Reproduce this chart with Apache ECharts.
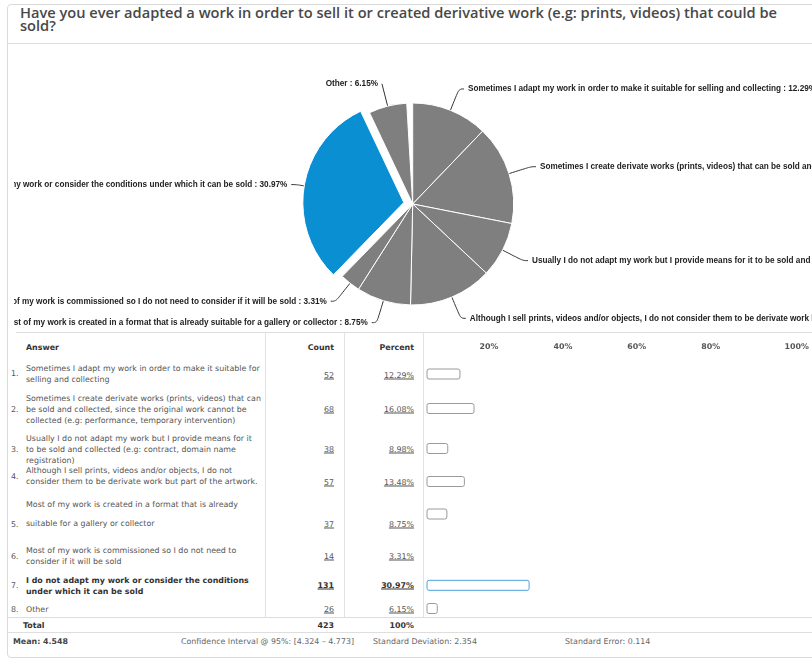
<!DOCTYPE html>
<html>
<head>
<meta charset="utf-8">
<script src="https://cdn.jsdelivr.net/npm/echarts@6/dist/echarts.min.js"></script>
<style>
  html, body { margin: 0; padding: 0; background: #fff; }
  body {
    width: 812px; height: 660px; position: relative; overflow: hidden;
    font-family: "DejaVu Sans", sans-serif; font-size: 7.9px; color: #555;
  }
  .abs { position: absolute; white-space: nowrap; }
  #panel { left: 7px; top: 4px; width: 840px; height: 652px; border: 1px solid #dadada; border-radius: 4px; }
  #title {
    left: 20px; top: 7px; white-space: pre; transform-origin: 0 0;
    font-family: "Open Sans", sans-serif;
    font-weight: 600; font-size: 14.5px; line-height: 12.5px; color: #484848;
  }
  .hr { height: 1px; background: #dedede; }
  .vr { width: 1px; background: #e2e2e2; }
  .mid { transform: translateY(-50%); }
  .rmid { transform: translate(-100%, -50%); }
  .head { font-weight: bold; color: #333; }
  .fig { text-decoration: underline; color: #555; }
  .ans { white-space: pre-line; line-height: 11px; }
  .strong { font-weight: bold; color: #333; }
  #pie { left: 14px; top: 46px; width: 798px; height: 284px; }
  #bars { left: 423px; top: 333px; width: 389px; height: 284px; }
</style>
</head>
<body>
<div id="panel" class="abs"></div>
<div id="title" class="abs"></div>
<div class="abs hr" style="left:8px; top:43px; width:804px;"></div>
<div id="pie" class="abs"></div>
<div class="abs hr" style="left:16px; top:332px; width:796px;"></div>
<div class="abs vr" style="left:265px; top:333px; height:284px;"></div>
<div class="abs vr" style="left:344px; top:333px; height:284px;"></div>
<div class="abs vr" style="left:423px; top:333px; height:284px;"></div>
<div class="abs hr" style="left:8px; top:617px; width:804px;"></div>
<div class="abs hr" style="left:8px; top:632px; width:804px;"></div>
<div id="table"></div>
<div id="bars" class="abs"></div>

<script>
// ---- survey question and results ----
const questionLines = [
  "Have you ever adapted a work in order to sell it or created derivative work (e.g: prints, videos) that could be",
  "sold?"
];

const answers = [
  "Sometimes I adapt my work in order to make it suitable for\nselling and collecting",
  "Sometimes I create derivate works (prints, videos) that can\nbe sold and collected, since the original work cannot be\ncollected (e.g: performance, temporary intervention)",
  "Usually I do not adapt my work but I provide means for it\nto be sold and collected (e.g: contract, domain name\nregistration)",
  "Although I sell prints, videos and/or objects, I do not\nconsider them to be derivate work but part of the artwork.",
  "Most of my work is created in a format that is already\nsuitable for a gallery or collector",
  "Most of my work is commissioned so I do not need to\nconsider if it will be sold",
  "I do not adapt my work or consider the conditions\nunder which it can be sold",
  "Other"
];
const counts = [52, 68, 38, 57, 37, 14, 131, 26];
const percents = [12.29, 16.08, 8.98, 13.48, 8.75, 3.31, 30.97, 6.15];
const totalCount = 423;
const totalPercent = "100%";
// part of the ring left blank after the "Other" slice
const blankShare = 0.95;
const highlightedIndex = 6;

const percentTicks = [20, 40, 60, 80, 100];

const meanText = "Mean: 4.548";
const ciText = "Confidence Interval @ 95%: [4.324 \u2013 4.773]";
const sdText = "Standard Deviation: 2.354";
const seText = "Standard Error: 0.114";

// ---- table layout (vertical centres of each row's pieces, page pixels) ----
const textMidY = [374, 409, 449, 475.5, 514, 556, 585.5, 608.5];
const numMidY  = [373, 409, 449, 476, 523.5, 555.5, 585, 608.5];
const figMidY  = [375, 409, 449, 481.5, 523.5, 556, 585, 608.5];
const barMidY  = [374, 408.5, 448.5, 481.5, 514, 557, 585.3, 608.5];
const lineGap  = [11, 11, 11, 11, 19, 11, 11, 11];

// connector lengths that differ from the series default (by slice index)
const connectorOverrides = { 6: { length: 8 }, 7: { length2: 0 } };

// title: condensed to the width of the header band
const titleEl = document.getElementById('title');
titleEl.textContent = questionLines.join('\n');
(function fitTitle() {
  const ctx = document.createElement('canvas').getContext('2d');
  ctx.font = '600 14.5px "Open Sans"';
  const w = ctx.measureText(questionLines[0]).width;
  const target = 757;
  titleEl.style.transform = 'scaleX(' + (target / w).toFixed(4) + ')';
})();

const table = document.getElementById('table');
function put(text, cls, left, top, extra) {
  const d = document.createElement('div');
  d.className = 'abs ' + cls;
  d.style.left = left + 'px';
  d.style.top = top + 'px';
  if (extra) Object.assign(d.style, extra);
  d.textContent = text;
  table.appendChild(d);
  return d;
}

// header row
put('Answer', 'mid head', 26, 347);
put('Count', 'rmid head', 334, 347);
put('Percent', 'rmid head', 414, 347);

answers.forEach((a, i) => {
  const strong = i === highlightedIndex ? ' strong' : '';
  put((i + 1) + '.', 'mid', 11, numMidY[i]);
  put(a, 'mid ans' + strong, 26, textMidY[i], { lineHeight: lineGap[i] + 'px' });
  put(String(counts[i]), 'rmid fig' + strong, 334, figMidY[i]);
  put(percents[i].toFixed(2) + '%', 'rmid fig' + strong, 414, figMidY[i]);
});

put('Total', 'mid head', 23, 625);
put(String(totalCount), 'rmid head', 334, 625);
put(totalPercent, 'rmid head', 414, 625);

put(meanText, 'mid', 13, 641, { fontWeight: 'bold', color: '#444' });
put(ciText, 'mid', 181, 641, { color: '#666' });
put(sdText, 'mid', 373, 641, { color: '#666' });
put(seText, 'mid', 565, 641, { color: '#666' });

// ---- pie of the answer shares ----
const pieChart = echarts.init(document.getElementById('pie'), null, { renderer: 'canvas' });
const pieData = answers.map((a, i) => {
  const item = { name: a.replace(/\n/g, ' '), value: percents[i] };
  if (i === highlightedIndex) {
    item.selected = true;
    item.itemStyle = { color: '#0a8fd3' };
    item.select = { itemStyle: { color: '#0a8fd3' } };
  }
  if (connectorOverrides[i]) item.labelLine = connectorOverrides[i];
  return item;
});
pieData.push({
  name: '', value: blankShare,
  itemStyle: { color: 'rgba(255,255,255,0)', borderWidth: 0 },
  label: { show: false }, labelLine: { show: false }
});

pieChart.setOption({
  animation: false,
  series: [{
    type: 'pie',
    center: [398.7, 158],
    radius: 101,
    startAngle: 90,
    clockwise: true,
    selectedMode: 'single',
    selectedOffset: 9,
    avoidLabelOverlap: true,
    silent: true,
    itemStyle: { color: '#7f7f7f', borderColor: '#fff', borderWidth: 1 },
    select: { itemStyle: { borderColor: '#fff', borderWidth: 1 } },
    emphasis: { disabled: true },
    label: {
      formatter: p => p.name + ' : ' + p.value.toFixed(2) + '%',
      fontFamily: 'Liberation Sans',
      fontWeight: 'bold',
      fontSize: 8.2,
      color: '#222',
      overflow: 'none',
      distanceToLabelLine: 4
    },
    labelLine: {
      length: 23,
      length2: 5,
      smooth: 0.4,
      lineStyle: { color: '#333', width: 1 }
    },
    data: pieData
  }]
});

// ---- percent bars, one small grid per table row ----
const barChart = echarts.init(document.getElementById('bars'), null, { renderer: 'canvas' });
const chartTop = 333;
// the value axis starts at the cell's inner edge, slightly above 0 %
const axisMin = 3.24;
const axisLeft = 4, axisWidth = 358, barH = 11;

const grids = [{ left: axisLeft, width: axisWidth, top: 18, height: 1 }];
const xAxes = [{
  gridIndex: 0, type: 'value', min: axisMin, max: 100, position: 'top',
  axisLine: { show: false }, axisTick: { show: false }, splitLine: { show: false },
  axisLabel: {
    customValues: percentTicks, formatter: v => v + '%', margin: 0,
    fontFamily: 'DejaVu Sans', fontSize: 7.9, fontWeight: 'bold', color: '#555',
    alignMaxLabel: 'left'
  }
}];
const yAxes = [{ gridIndex: 0, type: 'category', data: [''], show: false }];
const barSeries = [];

percents.forEach((p, i) => {
  const g = i + 1;
  grids.push({ left: axisLeft, width: axisWidth, top: barMidY[i] - chartTop - barH / 2, height: barH });
  xAxes.push({ gridIndex: g, type: 'value', min: axisMin, max: 100, show: false });
  yAxes.push({ gridIndex: g, type: 'category', data: [answers[i].replace(/\n/g, ' ')], show: false });
  barSeries.push({
    type: 'bar', xAxisIndex: g, yAxisIndex: g, silent: true,
    barWidth: barH,
    data: [p],
    itemStyle: {
      color: '#fff',
      borderColor: i === highlightedIndex ? '#4aa3df' : '#9a9a9a',
      borderWidth: 1,
      borderRadius: 2
    }
  });
});

barChart.setOption({
  animation: false,
  grid: grids,
  xAxis: xAxes,
  yAxis: yAxes,
  series: barSeries
});
</script>
</body>
</html>
